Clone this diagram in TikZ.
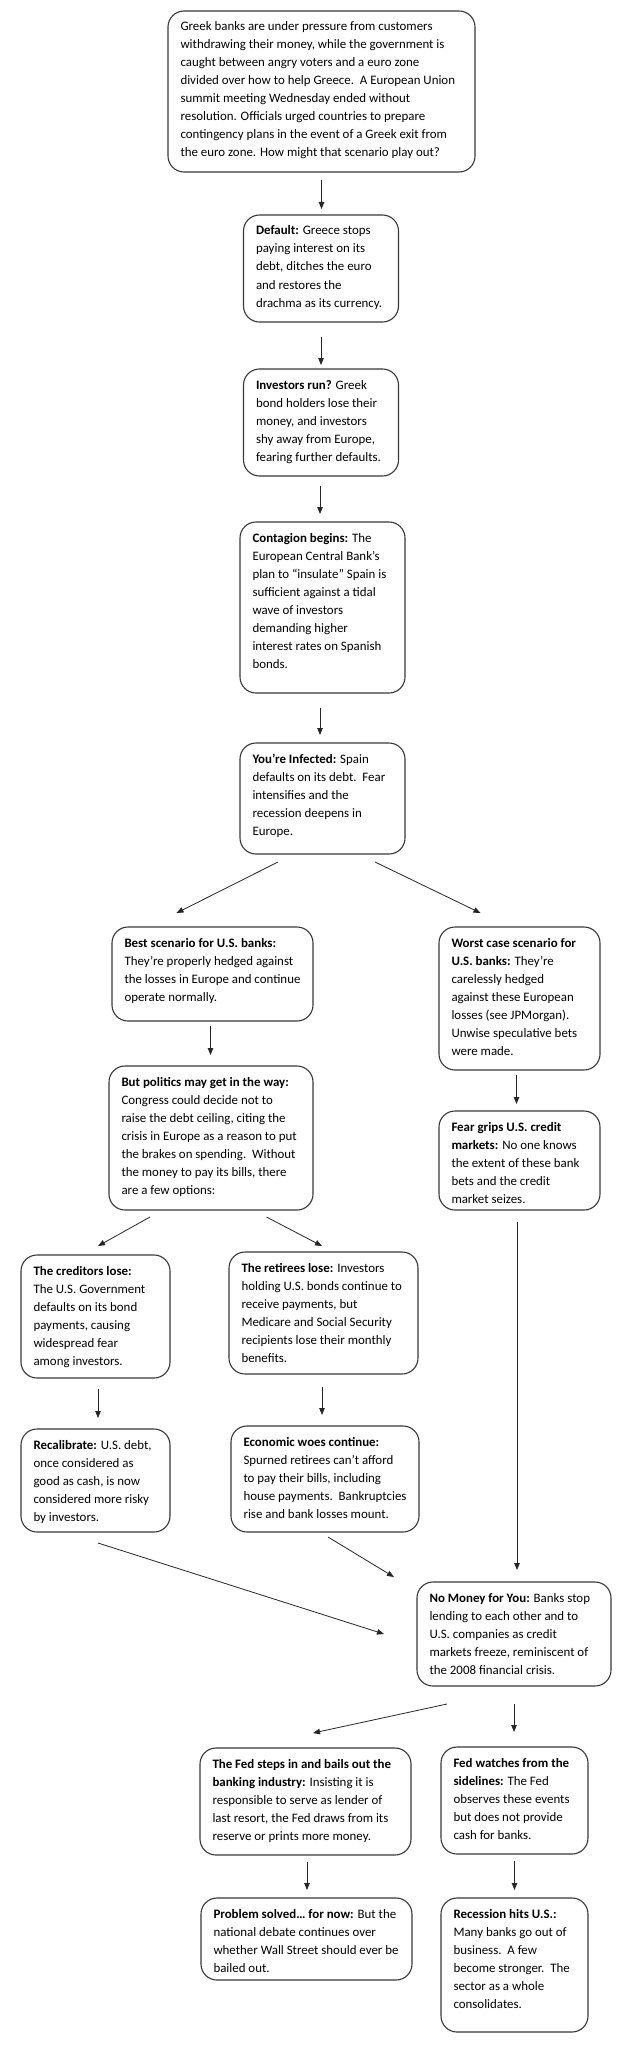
\documentclass[tikz,border=0pt]{standalone}
\usepackage{fontspec}
\setmainfont{Carlito}
\usetikzlibrary{arrows.meta,calc}
\newcommand\bt[3]{\parbox[c][#2pt][t]{\dimexpr#1pt-25pt\relax}{\fontsize{12.9}{18}\selectfont\raggedright\rule{0pt}{20pt}#3}}
\tikzset{
  fbx/.style={draw=black!78, line width=1.1pt, rounded corners=16pt, inner xsep=12.5pt, inner ysep=0pt, outer sep=0pt, anchor=north west, fill=white},
  arr/.style={draw=black!85, line width=0.8pt, -{Triangle[length=7pt,width=5.5pt]}},
  ln/.style={draw=black!85, line width=0.8pt}
}
\begin{document}
\begin{tikzpicture}[x=1pt,y=-1pt]
\useasboundingbox[fill=white] (0,0) rectangle (630,2060);

\node[fbx] (top) at (168,11) {\bt{307}{161}{Greek banks are under pressure from customers\\withdrawing their money, while the government is\\caught between angry voters and a euro zone\\divided over how to help Greece.\ \ A European Union\\summit meeting Wednesday ended without\\resolution. Officials urged countries to prepare\\contingency plans in the event of a Greek exit from\\the euro zone. How might that scenario play out?}};

\node[fbx] (default) at (243.5,215) {\bt{155}{107}{\textbf{Default:} Greece stops\\paying interest on its\\debt, ditches the euro\\and restores the\\drachma as its currency.}};

\node[fbx] (investors) at (243.5,369) {\bt{155}{107}{\textbf{Investors run?} Greek\\bond holders lose their\\money, and investors\\shy away from Europe,\\fearing further defaults.}};

\node[fbx] (contagion) at (240,522) {\bt{165}{171}{\textbf{Contagion begins:} The\\European Central Bank’s\\plan to “insulate” Spain is\\sufficient against a tidal\\wave of investors\\demanding higher\\interest rates on Spanish\\bonds.}};

\node[fbx] (infected) at (240,743) {\bt{165}{111}{\textbf{You’re Infected:} Spain\\defaults on its debt.\ \ Fear\\intensifies and the\\recession deepens in\\Europe.}};

\node[fbx] (best) at (112,927) {\bt{201}{94}{\textbf{Best scenario for U.S. banks:}\\They’re properly hedged against\\the losses in Europe and continue\\operate normally.}};

\node[fbx] (politics) at (109,1066) {\bt{204}{144}{\textbf{But politics may get in the way:}\\Congress could decide not to\\raise the debt ceiling, citing the\\crisis in Europe as a reason to put\\the brakes on spending.\ \ Without\\the money to pay its bills, there\\are a few options:}};

\node[fbx] (worst) at (439,927) {\bt{161}{143}{\textbf{Worst case scenario for}\\\textbf{U.S. banks:} They’re\\carelessly hedged\\against these European\\losses (see JPMorgan).\\Unwise speculative bets\\were made.}};

\node[fbx] (fear) at (439,1111) {\bt{161}{99}{\textbf{Fear grips U.S. credit}\\\textbf{markets:} No one knows\\the extent of these bank\\bets and the credit\\market seizes.}};

\node[fbx] (creditors) at (21,1255) {\bt{149}{123}{\textbf{The creditors lose:}\\The U.S. Government\\defaults on its bond\\payments, causing\\widespread fear\\among investors.}};

\node[fbx] (retirees) at (229,1252) {\bt{189}{122}{\textbf{The retirees lose:} Investors\\holding U.S. bonds continue to\\receive payments, but\\Medicare and Social Security\\recipients lose their monthly\\benefits.}};

\node[fbx] (recal) at (21,1429) {\bt{149}{103}{\textbf{Recalibrate:} U.S. debt,\\once considered as\\good as cash, is now\\considered more risky\\by investors.}};

\node[fbx] (econ) at (231,1426) {\bt{188}{106}{\textbf{Economic woes continue:}\\Spurned retirees can’t afford\\to pay their bills, including\\house payments.\ \ Bankruptcies\\rise and bank losses mount.}};

\node[fbx] (nomoney) at (417,1582) {\bt{194}{104}{\textbf{No Money for You:} Banks stop\\lending to each other and to\\U.S. companies as credit\\markets freeze, reminiscent of\\the 2008 financial crisis.}};

\node[fbx] (fedin) at (200,1748) {\bt{211}{107}{\textbf{The Fed steps in and bails out the}\\\textbf{banking industry:} Insisting it is\\responsible to serve as lender of\\last resort, the Fed draws from its\\reserve or prints more money.}};

\node[fbx] (fedwatch) at (441,1747) {\bt{147}{107}{\textbf{Fed watches from the}\\\textbf{sidelines:} The Fed\\observes these events\\but does not provide\\cash for banks.}};

\node[fbx] (problem) at (201,1898) {\bt{211}{82}{\textbf{Problem solved… for now:} But the\\national debate continues over\\whether Wall Street should ever be\\bailed out.}};

\node[fbx] (recession) at (441,1898) {\bt{147}{134}{\textbf{Recession hits U.S.:}\\Many banks go out of\\business.\ \ A few\\become stronger.\ \ The\\sector as a whole\\consolidates.}};

% vertical arrows
\draw[arr] ($(top.south)+(0,8)$) -- ($(top.south |- default.north)+(0,-6)$);
\draw[arr] ($(default.south)+(0,15)$) -- ($(default.south |- investors.north)+(0,-4)$);
\draw[arr] ($(investors.south)+(-1,10)$) -- ($(investors.south |- contagion.north)+(-1,-8)$);
\draw[arr] ($(contagion.south)+(-2.5,15)$) -- ($(contagion.south |- infected.north)+(-2.5,-8)$);
\draw[arr] ($(best.south)+(-2,5)$) -- ($(best.south |- politics.north)+(-2,-11)$);
\draw[arr] ($(worst.south)+(-3,5)$) -- ($(worst.south |- fear.north)+(-3,-7)$);
\draw[arr] ($(creditors.south)+(2.5,11)$) -- ($(creditors.south |- recal.north)+(2.5,-11)$);
\draw[arr] ($(retirees.south)+(-1.5,13)$) -- ($(retirees.south |- econ.north)+(-1.5,-11)$);
\draw[arr] ($(fear.south)+(-2.5,12)$) -- ($(fear.south |- nomoney.north)+(-2.5,-12)$);
\draw[arr] ($(nomoney.south)+(0,18)$) -- ($(nomoney.south |- fedwatch.north)+(0,-15)$);
\draw[arr] ($(fedin.south)+(1.5,7)$) -- ($(fedin.south |- problem.north)+(1.5,-8)$);
\draw[arr] ($(fedwatch.south)+(0,7)$) -- ($(fedwatch.south |- recession.north)+(0,-8)$);

% diagonal arrows
\draw[arr] ($(infected.south)+(-44.5,8)$) -- ($(best.north)+(-36,-14)$);
\draw[arr] ($(infected.south)+(52.5,8)$) -- ($(worst.north)+(-39,-14)$);
\draw[arr] ($(politics.south)+(-61,7)$) -- ($(creditors.north)+(2.5,-9)$);
\draw[arr] ($(politics.south)+(55.5,7)$) -- ($(retirees.north)+(-1.5,-6)$);
\draw[arr] ($(recal.south)+(2.5,11)$) -- ($(nomoney.west)+(-33,0)$);
\draw[arr] ($(econ.south)+(3,5)$) -- ($(nomoney.north west)+(-23,-5)$);
\draw[arr] ($(nomoney.south)+(-67,18)$) -- ($(fedin.north)+(7.5,-15)$);
\end{tikzpicture}
\end{document}
